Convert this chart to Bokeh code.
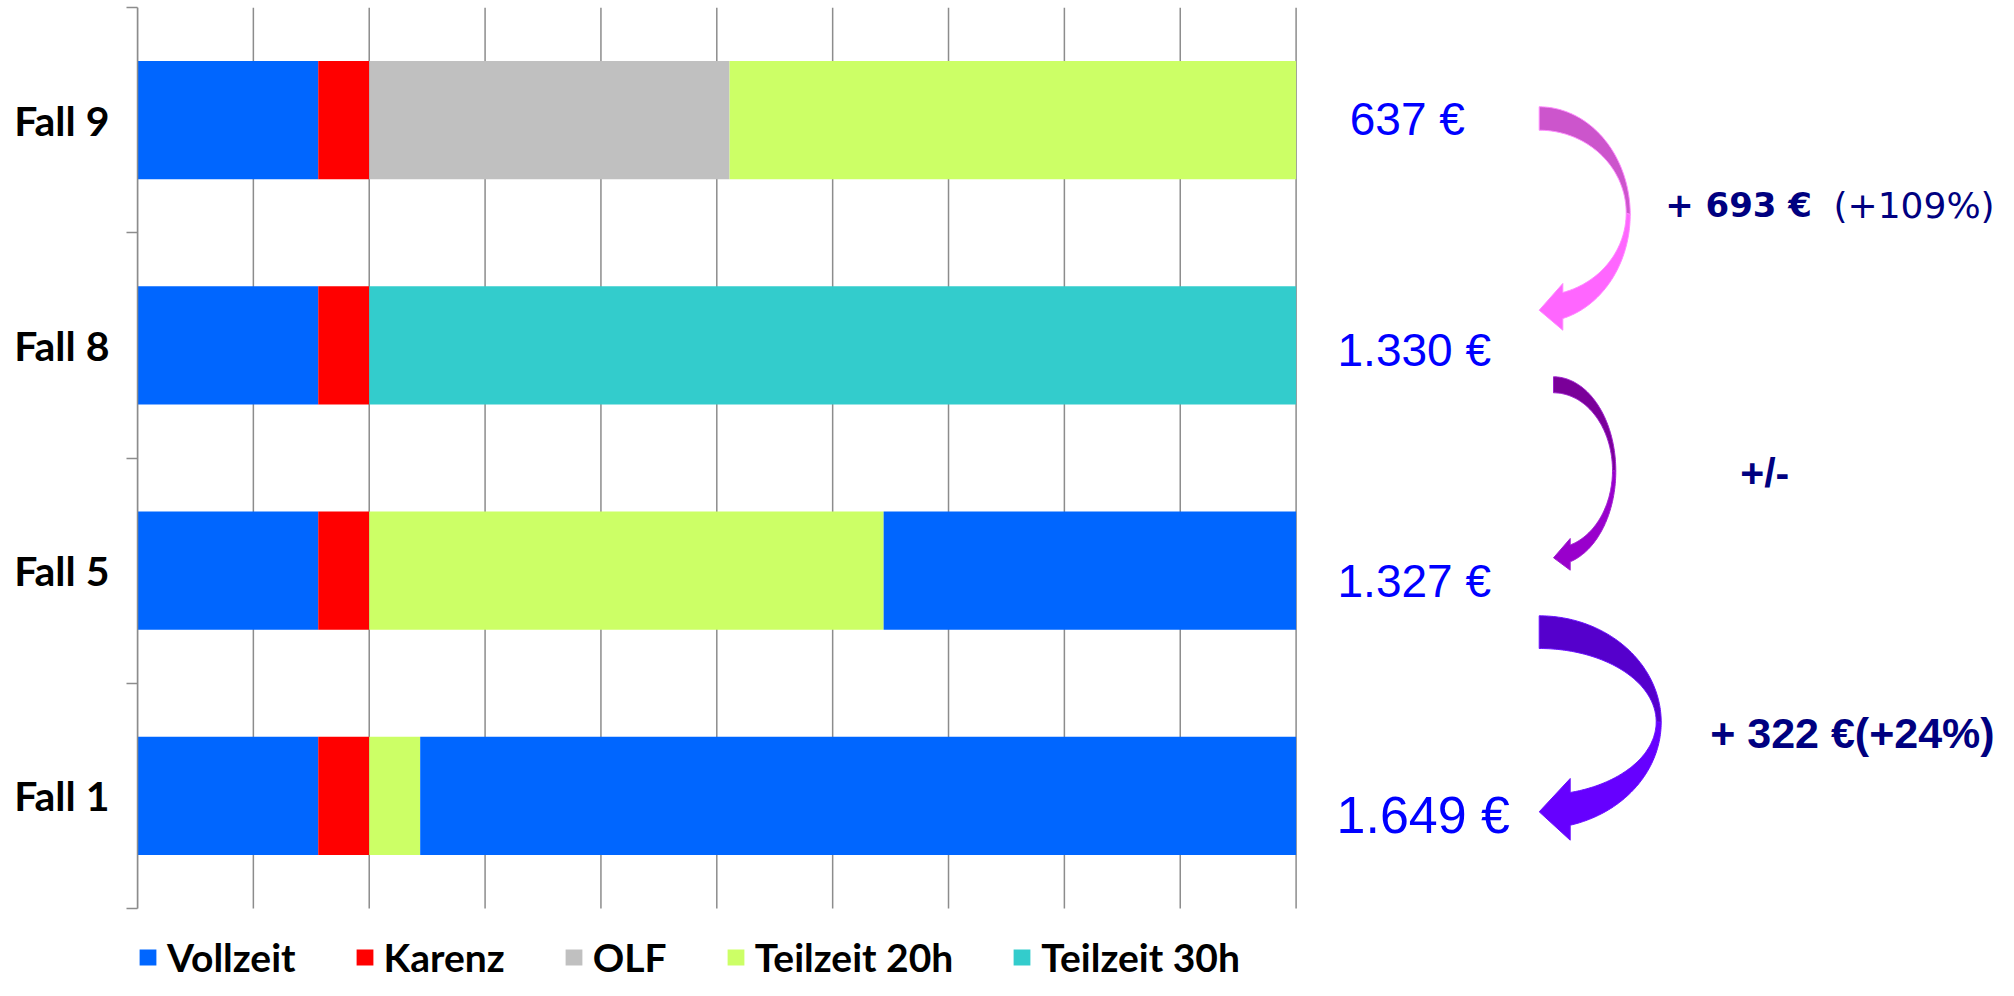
import numpy as np
from bokeh.plotting import figure
from bokeh.models import Range1d, FixedTicker, Legend, LegendItem, ColumnDataSource
from bokeh.core.properties import value
from bokeh.embed import file_html
from bokeh.resources import INLINE

# ---------------- data ----------------
categories = ["Fall 1", "Fall 5", "Fall 8", "Fall 9"]
vollzeit_start = [1.56, 1.56, 1.56, 1.56]
karenz = [0.44, 0.44, 0.44, 0.44]
olf = [0.0, 0.0, 0.0, 3.11]
teilzeit_20h = [0.44, 4.44, 0.0, 4.89]
teilzeit_30h = [0.0, 0.0, 8.0, 0.0]
vollzeit_end = [7.56, 3.56, 0.0, 0.0]
legend_names = ["Vollzeit", "Karenz", "OLF", "Teilzeit 20h", "Teilzeit 30h"]
totals = ["1.649 €", "1.327 €", "1.330 €", "637 €"]
x_ticks = list(range(0, 11))

# ---------------- styles ----------------
W, H = 1998, 980
LEFT, TOP = 137, 7
PX_X = 115.86
PX_Y = 225.25
REF_X0, REF_Y0 = 139.0, 9.0  # reference-picture position of the plot frame origin
x_end = (W - LEFT) / PX_X
y_start = 3.5 - (H - TOP) / PX_Y
colors = ["#0066FF", "#FF0000", "#C0C0C0", "#CCFF66", "#33CCCC", "#0066FF"]
grid_col = "#8c8c8c"
navy = "#000080"
cat_lo, cat_hi = -0.5, len(categories) - 0.5

p = figure(width=W, height=H, output_backend="svg", toolbar_location=None,
           x_range=Range1d(0, x_end), y_range=Range1d(y_start, 3.5),
           x_axis_location=None, min_border_left=LEFT, min_border_right=0,
           min_border_top=TOP, min_border_bottom=0)
p.outline_line_color = None
p.grid.visible = False

# vertical grid lines over the category area only
p.segment(x0=x_ticks, x1=x_ticks, y0=[cat_lo] * len(x_ticks), y1=[cat_hi] * len(x_ticks),
          line_color=grid_col, line_width=1.5)

src = ColumnDataSource(dict(y=list(range(len(categories))),
                            vollzeit_start=vollzeit_start, karenz=karenz, olf=olf,
                            teilzeit_20h=teilzeit_20h, teilzeit_30h=teilzeit_30h,
                            vollzeit_end=vollzeit_end))
stack_cols = ["vollzeit_start", "karenz", "olf", "teilzeit_20h", "teilzeit_30h", "vollzeit_end"]
rs = p.hbar_stack(stack_cols, y="y", height=0.525, fill_color=colors, line_color=None, source=src)

# y axis
ax = p.yaxis[0]
ax.bounds = (cat_lo, cat_hi)
ax.ticker = FixedTicker(ticks=list(range(len(categories))),
                        minor_ticks=[i - 0.5 for i in range(len(categories) + 1)])
ax.major_label_overrides = {i: c for i, c in enumerate(categories)}
ax.axis_line_color = grid_col
ax.axis_line_width = 1.5
ax.major_tick_out = 0
ax.major_tick_in = 0
ax.minor_tick_out = 11
ax.minor_tick_in = 0
ax.minor_tick_line_color = grid_col
ax.minor_tick_line_width = 1.5
ax.major_label_standoff = 17
ax.major_label_text_font = "Lato"
ax.major_label_text_font_style = "bold"
ax.major_label_text_font_size = "41px"
ax.major_label_text_color = "black"

# legend at the bottom
items = [LegendItem(label=n, renderers=[rs[i]]) for i, n in enumerate(legend_names)]
leg = Legend(items=items, orientation="horizontal", location=(0, 0),
             spacing=58, label_standoff=9, glyph_width=21, glyph_height=20,
             padding=0, margin=0, border_line_color=None, background_fill_alpha=0,
             label_text_font="Lato", label_text_font_style="bold",
             label_text_font_size="39px", label_text_color="black")
p.add_layout(leg)

# totals to the right of the bars
total_sizes = ["52px", "46px", "46px", "46px"]
total_dx = [9, 0, 0, -7]
total_dy = [19, 10, 5, -1]
tsrc = ColumnDataSource(dict(x=[11.02] * 4, y=list(range(4)), t=totals, s=total_sizes,
                             dx=total_dx, dy=total_dy))
p.text(x="x", y="y", text="t", source=tsrc, text_font=value("Liberation Sans"),
       text_font_size="s", text_color="#0000FF", text_align="center",
       text_baseline="middle", x_offset="dx", y_offset="dy")

# curved arrows (geometry in reference pixels, converted through the plot scale)
def to_data(X, Y):
    return (np.asarray(X) - REF_X0) / PX_X, 3.5 - (np.asarray(Y) - REF_Y0) / PX_Y

def arrow(x0, y_top, y_bot, r_out, r_in, dx, y_ho, y_hi, h_top, h_bot, tip_y, n=80):
    s_o = np.sqrt(1 - (dx / r_out) ** 2); ry_o = (y_ho - y_top) / (1 + s_o); cy_o = y_top + ry_o
    s_i = np.sqrt(1 - (dx / r_in) ** 2); ry_i = (y_hi - y_bot) / (1 + s_i); cy_i = y_bot + ry_i
    te_o = np.arccos(dx / r_out); te_i = np.arccos(dx / r_in)
    def pts(r, cy, ry, a, b):
        t = np.linspace(a, b, n)
        return list(x0 + r * np.cos(t)), list(cy + ry * np.sin(t))
    ox, oy = pts(r_out, cy_o, ry_o, -np.pi / 2, 0)
    ix, iy = pts(r_in, cy_i, ry_i, 0, -np.pi / 2)
    dark = to_data(ox + ix, oy + iy)
    ox2, oy2 = pts(r_out, cy_o, ry_o, 0, te_o)
    ix2, iy2 = pts(r_in, cy_i, ry_i, te_i, 0)
    hx = [x0 + dx, x0, x0 + dx]
    hy = [h_bot, tip_y, h_top]
    light = to_data(ox2 + hx + ix2, oy2 + hy + iy2)
    return dark, light

arrow_specs = [
    (1540.7, 108.3, 131.7, 91, 87, 23.6, 320, 294, 285, 331.7, 311.7, "#CC55CC", "#FF66FF", "#FF88FF"),
    (1555.0, 378.3, 394.3, 62.3, 59, 16.7, 563.3, 546.5, 540, 571.7, 559.3, "#7A0099", "#9900CC", "#A020D0"),
    (1540.7, 617.3, 650.0, 122, 117, 31, 826.7, 794, 780, 841.7, 813.3, "#5500CC", "#6600FF", "#6A10FF"),
]
for spec in arrow_specs:
    dark, light = arrow(*spec[:11])
    p.patch(x=light[0], y=light[1], fill_color=spec[12], line_color=spec[13], line_width=1)
    p.patch(x=dark[0], y=dark[1], fill_color=spec[11], line_color=spec[13], line_width=1)

# change annotations
p.text(x=[13.186], y=[2.621], text=["+ 693 €"], text_font=value("DejaVu Sans"),
       text_font_style="bold", text_font_size="34px", text_color=navy,
       text_align="left", text_baseline="middle")
p.text(x=[14.638], y=[2.621], text=["(+109%)"], text_font=value("DejaVu Sans"),
       text_font_size="36px", text_color=navy, text_align="left", text_baseline="middle")
p.text(x=[13.833], y=[1.435], text=["+/-"], text_font=value("Liberation Sans"),
       text_font_style="bold", text_font_size="41px", text_color=navy,
       text_align="left", text_baseline="middle")
p.text(x=[13.574], y=[0.28], text=["+ 322 €(+24%)"], text_font=value("Liberation Sans"),
       text_font_style="bold", text_font_size="43px", text_color=navy,
       text_align="left", text_baseline="middle")

open("out.html", "w").write(file_html(p, INLINE))
